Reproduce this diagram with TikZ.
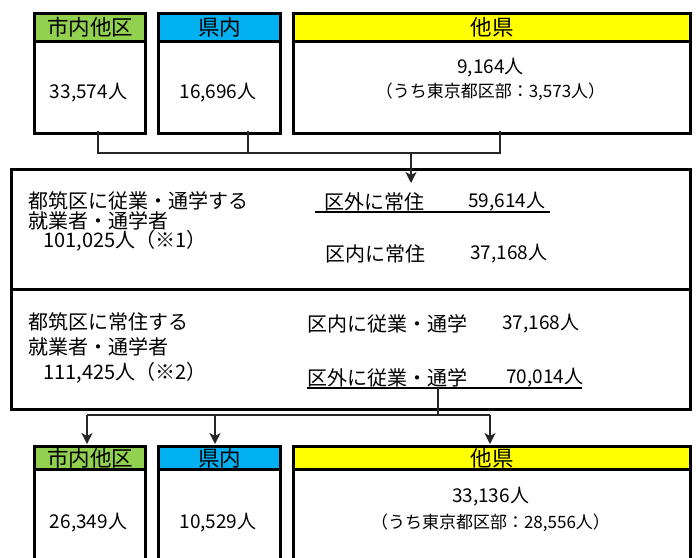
\documentclass[tikz,border=0pt]{standalone}
\usepackage{fontspec}
\setmainfont{Noto Sans CJK JP}
\usetikzlibrary{arrows.meta}
\definecolor{hgreen}{HTML}{92D050}
\definecolor{hblue}{HTML}{00B0F0}
\definecolor{hyellow}{HTML}{FFFF00}
\begin{document}
\begin{tikzpicture}[x=1pt,y=-1pt,
  box/.style={draw=black, line width=3pt, fill=white, rectangle, inner sep=0pt, anchor=north west},
  hdr/.style={box, font=\fontsize{21.5}{22}\selectfont},
  val/.style={font=\fontsize{20}{22}\selectfont, inner sep=0pt},
  num/.style={font=\fontsize{19}{21}\selectfont, inner sep=0pt},
  small/.style={font=\fontsize{17}{19}\selectfont, inner sep=0pt},
  conn/.style={draw=black!85, line width=1.5pt},
  arr/.style={conn, -{Stealth[length=11pt,width=11pt,inset=3pt]}},
  uline/.style={draw=black, line width=1.5pt}]
\useasboundingbox (0,0) rectangle (696,557);
\clip (0,0) rectangle (696,557);

% ---- top boxes ----
\node[box, minimum width=111pt, minimum height=120pt] (b1) at (33,12) {};
\node[hdr, fill=hgreen, minimum width=111pt, minimum height=28pt] (h1) at (33,12) {市内他区};
\node[num] (v1) at (88.5,93) {33,574人};

\node[box, minimum width=122pt, minimum height=120pt] (b2) at (157,12) {};
\node[hdr, fill=hblue, minimum width=122pt, minimum height=28pt] (h2) at (157,12) {県内};
\node[num] (v2) at (218,93) {16,696人};

\node[box, minimum width=397pt, minimum height=120pt] (b3) at (292,12) {};
\node[hdr, fill=hyellow, minimum width=397pt, minimum height=28pt] (h3) at (292,12) {他県};
\node[num] (v3) at (490.5,68) {9,164人};
\node[small] (s3) at (490.5,92) {（うち東京都区部：3,573人）};

% ---- main boxes ----
\node[box, minimum width=679pt, minimum height=120pt] (up) at (10,168) {};
\node[box, minimum width=679pt, minimum height=120pt] (lo) at (10,288) {};

\node[val, anchor=west] (t1) at (28,201) {都筑区に従業・通学する};
\node[val, anchor=west] (t2) at (28,221) {就業者・通学者};
\node[val, anchor=west] (t3) at (43,241) {101,025人（※1）};

\node[val, anchor=west] (r1) at (324,202) {区外に常住};
\node[num, anchor=west] (n1) at (468,202) {59,614人};
\node[val, anchor=west] (r2) at (325,254) {区内に常住};
\node[num, anchor=west] (n2) at (470,254) {37,168人};
\coordinate (u1a) at (315,212);
\coordinate (u1b) at (550,212);
\draw[uline] (u1a) -- (u1b);

\node[val, anchor=west] (t4) at (28,322) {都筑区に常住する};
\node[val, anchor=west] (t5) at (28,347) {就業者・通学者};
\node[val, anchor=west] (t6) at (43,373) {111,425人（※2）};

\node[val, anchor=west] (r3) at (307,324) {区内に従業・通学};
\node[num, anchor=west] (n3) at (502,324) {37,168人};
\node[val, anchor=west] (r4) at (307,378) {区外に従業・通学};
\node[num, anchor=west] (n4) at (506,378) {70,014人};
\coordinate (u2a) at (307,388);
\coordinate (u2b) at (582,388);
\draw[uline] (u2a) -- (u2b);

% ---- bottom boxes ----
\node[box, minimum width=111pt, minimum height=140pt] (c1) at (33,445) {};
\node[hdr, fill=hgreen, minimum width=111pt, minimum height=23pt] (k1) at (33,445) {市内他区};
\node[num] (w1) at (88.5,523) {26,349人};

\node[box, minimum width=122pt, minimum height=140pt] (c2) at (157,445) {};
\node[hdr, fill=hblue, minimum width=122pt, minimum height=23pt] (k2) at (157,445) {県内};
\node[num] (w2) at (218,523) {10,529人};

\node[box, minimum width=397pt, minimum height=140pt] (c3) at (292,445) {};
\node[hdr, fill=hyellow, minimum width=397pt, minimum height=23pt] (k3) at (292,445) {他県};
\node[num] (w3) at (490.5,497) {33,136人};
\node[small] (x3) at (490.5,523) {（うち東京都区部：28,556人）};

% ---- top connectors ----
\coordinate (p1) at (98,131);
\coordinate (p2) at (248,131);
\coordinate (p3) at (500,131);
\coordinate (q1) at (98,153);
\coordinate (q2) at (248,153);
\coordinate (q3) at (500,153);
\coordinate (q4) at (411,153);
\coordinate (q5) at (411,183);
\draw[conn] (p1) -- (q1) -- (q3) -- (p3);
\draw[conn] (p2) -- (q2);
\draw[arr] (q4) -- (q5);

% ---- bottom connectors ----
\coordinate (d0) at (438,388);
\coordinate (d1) at (438,415);
\coordinate (e1) at (87,415);
\coordinate (e2) at (215,415);
\coordinate (e3) at (490,415);
\coordinate (f1) at (87,444);
\coordinate (f2) at (215,444);
\coordinate (f3) at (490,444);
\draw[conn] (d0) -- (d1);
\draw[conn] (e1) -- (e3);
\draw[arr] (e1) -- (f1);
\draw[arr] (e2) -- (f2);
\draw[arr] (e3) -- (f3);
\end{tikzpicture}
\end{document}
